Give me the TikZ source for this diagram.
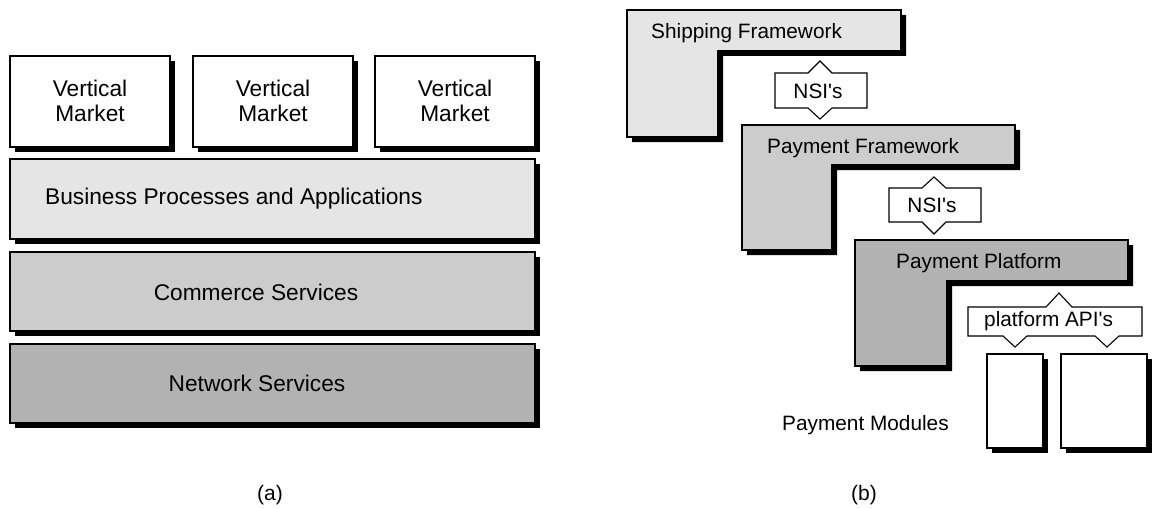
\documentclass[tikz,border=0pt]{standalone}
\usepackage{fontspec}
\setmainfont{Liberation Sans}
% family without TeX ligature mapping, so ' stays a straight apostrophe
\newfontfamily\plainsans{Liberation Sans}
\begin{document}
\begin{tikzpicture}[x=1pt,y=-1pt,
  shadowbox/.style={preaction={fill=black,transform canvas={xshift=5pt,yshift=-5pt}},
                    draw=black,line width=1.1pt},
  callout/.style={draw=black,fill=white,line width=1.1pt,line join=miter},
  lefttext/.style={inner sep=0pt,font=\plainsans\fontsize{22.7}{25}\selectfont,align=center},
  righttext/.style={inner sep=0pt,font=\plainsans\fontsize{20.8}{24}\selectfont},
  captiontext/.style={inner sep=0pt,font=\plainsans\fontsize{21}{24}\selectfont}]
\definecolor{layerA}{gray}{0.90}
\definecolor{layerB}{gray}{0.80}
\definecolor{layerC}{gray}{0.70}
\path[use as bounding box] (0,0) rectangle (1153,508);

% ---------- (a) layered architecture ----------
\path[shadowbox,fill=white] (10,56) rectangle (170,147);
\path[shadowbox,fill=white] (193,56) rectangle (353,147);
\path[shadowbox,fill=white] (375,56) rectangle (535,147);
\path[shadowbox,fill=layerA] (10,159) rectangle (535,239);
\path[shadowbox,fill=layerB] (10,252) rectangle (535,331);
\path[shadowbox,fill=layerC] (10,344) rectangle (535,423);

\node[lefttext] (vm1) at (90,101) {Vertical\\Market};
\node[lefttext] (vm2) at (273,101) {Vertical\\Market};
\node[lefttext] (vm3) at (455,101) {Vertical\\Market};
\node[lefttext,anchor=west] (bpa) at (45,199) {Business Processes and Applications};
\node[lefttext] (cs) at (256,292) {Commerce Services};
\node[lefttext] (ns) at (257,383) {Network Services};
\node[captiontext] (capa) at (270,495) {(a)};

% ---------- (b) frameworks and platform ----------
\path[shadowbox,fill=layerA] (627,10) -- (901,10) -- (901,51) -- (718,51) -- (718,137) -- (627,137) -- cycle;
\path[shadowbox,fill=layerB] (742,125) -- (1015,125) -- (1015,165) -- (832,165) -- (832,250) -- (742,250) -- cycle;
\path[shadowbox,fill=layerC] (855,240) -- (1128,240) -- (1128,281) -- (947,281) -- (947,366) -- (855,366) -- cycle;

% interface callouts
\path[callout] (775,73) -- (808,73) -- (820,61) -- (832,73) -- (867,73) -- (867,108)
  -- (832,108) -- (820,119) -- (808,108) -- (775,108) -- cycle;
\path[callout] (889,188) -- (922,188) -- (934,177) -- (946,188) -- (981,188) -- (981,222)
  -- (946,222) -- (934,234) -- (922,222) -- (889,222) -- cycle;
\path[callout] (968,307) -- (1046,307) -- (1059,293) -- (1072,307) -- (1142,307) -- (1142,336)
  -- (1119,336) -- (1107,347) -- (1095,336) -- (1027,336) -- (1015,347) -- (1003,336)
  -- (968,336) -- cycle;

% payment modules
\path[shadowbox,fill=white] (987,354) rectangle (1043,448);
\path[shadowbox,fill=white] (1061,354) rectangle (1147,448);

\node[righttext,anchor=west] (ship) at (651,33) {Shipping Framework};
\node[righttext,anchor=west] (payfw) at (767,148) {Payment Framework};
\node[righttext,anchor=west] (payplat) at (896,263) {Payment Platform};
\node[righttext] (nsi1) at (818,91) {NSI's};
\node[righttext] (nsi2) at (932,205) {NSI's};
\node[righttext,anchor=west] (api) at (984,321) {platform API's};
\node[righttext,anchor=west] (mods) at (782,425) {Payment Modules};
\node[captiontext] (capb) at (864,495) {(b)};
\end{tikzpicture}
\end{document}
